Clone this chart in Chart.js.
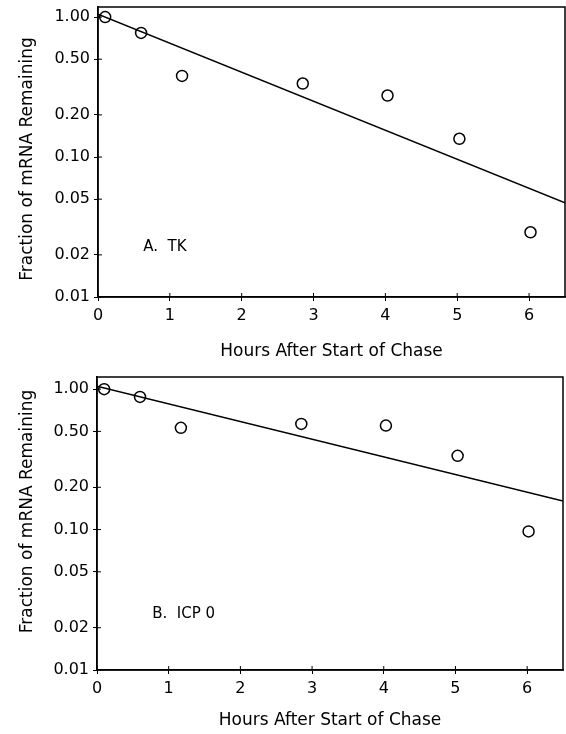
<!DOCTYPE html>
<html>
<head>
<meta charset="utf-8">
<script src="https://cdn.jsdelivr.net/npm/chart.js@4"></script>
<style>
  body { margin: 0; background: #fff; }
  .panel { position: absolute; left: 0; width: 566px; }
  #topPanel { top: 0; height: 370px; }
  #bottomPanel { top: 370px; height: 364px; }
</style>
</head>
<body>
<div class="panel" id="topPanel"><canvas id="chartA" width="566" height="370"></canvas></div>
<div class="panel" id="bottomPanel"><canvas id="chartB" width="566" height="364"></canvas></div>
<script>
// Dados
const hours = [0.1, 0.6, 1.17, 2.85, 4.03, 5.03, 6.02];
const tkFraction = [1.0, 0.77, 0.38, 0.335, 0.275, 0.135, 0.029];
const icpFraction = [1.0, 0.88, 0.53, 0.565, 0.55, 0.335, 0.097];

// Retas ajustadas (extremos)
const fitHours = [0, 6.5];
const tkFit = [1.05, 0.047];
const icpFit = [1.05, 0.16];

const yTicks = [0.01, 0.02, 0.05, 0.1, 0.2, 0.5, 1];
const xTicks = [0, 1, 2, 3, 4, 5, 6];

const fontFamily = "'DejaVu Sans', sans-serif";

// Moldura, título do eixo y e rótulo do painel
const framePlugin = {
	id: "frame",
	afterDraw(chart, args, opts) {
		const { ctx, chartArea } = chart;
		ctx.save();
		ctx.strokeStyle = "#000";
		ctx.lineWidth = 1.5;
		ctx.strokeRect(chartArea.left, chartArea.top, chartArea.right - chartArea.left, chartArea.bottom - chartArea.top);
		// marcas para dentro
		const xs = chart.scales.x, ys = chart.scales.y;
		ctx.lineWidth = 1;
		xTicks.forEach((t) => {
			const px = xs.getPixelForValue(t);
			ctx.beginPath();
			ctx.moveTo(px, chartArea.bottom);
			ctx.lineTo(px, chartArea.bottom - 4);
			ctx.stroke();
		});
		yTicks.forEach((t) => {
			const py = ys.getPixelForValue(t);
			ctx.beginPath();
			ctx.moveTo(chartArea.left, py);
			ctx.lineTo(chartArea.left + 4, py);
			ctx.stroke();
		});
		ctx.fillStyle = "#000";
		ctx.font = "15px " + fontFamily;
		ctx.textBaseline = "middle";
		ctx.fillText(opts.text, xs.getPixelForValue(opts.x), ys.getPixelForValue(opts.y));

		// título do eixo y
		ctx.font = "17px " + fontFamily;
		ctx.textAlign = "center";
		ctx.translate(28, (chartArea.top + chartArea.bottom) / 2 + opts.titleShift);
		ctx.rotate(-Math.PI / 2);
		ctx.fillText("Fraction of mRNA Remaining", 0, 0);
		ctx.restore();
	},
};

function makePanel(canvasId, values, fitValues, cfg) {
	return new Chart(document.getElementById(canvasId), {
		type: "scatter",
		data: {
			datasets: [
				{
					data: hours.map((h, i) => ({ x: h, y: values[i] })),
					pointStyle: "circle",
					pointRadius: 5.5,
					borderColor: "#000",
					backgroundColor: "rgba(0,0,0,0)",
					borderWidth: 1.5,
					showLine: false,
				},
				{
					data: fitHours.map((h, i) => ({ x: h, y: fitValues[i] })),
					showLine: true,
					pointRadius: 0,
					borderColor: "#000",
					borderWidth: 1.5,
				},
			],
		},
		options: {
			responsive: false,
			animation: false,
			layout: { autoPadding: false, padding: { top: 7, right: cfg.right, left: 0, bottom: 0 } },
			plugins: {
				legend: { display: false },
				tooltip: { enabled: false },
				frame: { text: cfg.label, x: cfg.labelX, y: cfg.labelY, titleShift: cfg.titleShift },
			},
			scales: {
				x: {
					type: "linear",
					min: 0,
					max: 6.5,
					afterBuildTicks: (s) => { s.ticks = xTicks.map((v) => ({ value: v })); },
					afterFit: (s) => {
						s.height = cfg.xHeight;
						s.paddingLeft = 0;
						s.paddingRight = 0;
					},
					grid: { display: true, drawOnChartArea: false, drawTicks: true, tickLength: 4, color: "#000" },
					border: { display: true, color: "#000", width: 1.5 },
					ticks: { color: "#000", padding: 5, maxRotation: 0, font: { family: fontFamily, size: 16 } },
					title: {
						display: true,
						text: "Hours After Start of Chase",
						color: "#000",
						padding: { top: 0, bottom: cfg.xTitlePad },
						font: { family: fontFamily, size: 17 },
					},
				},
				y: {
					type: "logarithmic",
					min: 0.01,
					max: cfg.yMax,
					afterBuildTicks: (s) => { s.ticks = yTicks.map((v) => ({ value: v })); },
					afterFit: (s) => {
						s.width = cfg.yWidth;
						s.paddingTop = 0;
						s.paddingBottom = 0;
					},
					grid: { display: true, drawOnChartArea: false, drawTicks: true, tickLength: 4, color: "#000" },
					border: { display: true, color: "#000", width: 1.5 },
					ticks: {
						color: "#000",
						padding: 4,
						font: { family: fontFamily, size: 16 },
						callback: (v) => Number(v).toFixed(2),
					},
				},
			},
		},
		plugins: [framePlugin],
	});
}

makePanel("chartA", tkFraction, tkFit, {
	right: 1, yMax: 1.18, yWidth: 98, xHeight: 73, xTitlePad: 8, titleShift: 7,
	label: "A.  TK", labelX: 0.63, labelY: 0.0228,
});
makePanel("chartB", icpFraction, icpFit, {
	right: 3, yMax: 1.22, yWidth: 97, xHeight: 64, xTitlePad: 3, titleShift: -12,
	label: "B.  ICP 0", labelX: 0.77, labelY: 0.025,
});
</script>
</body>
</html>
